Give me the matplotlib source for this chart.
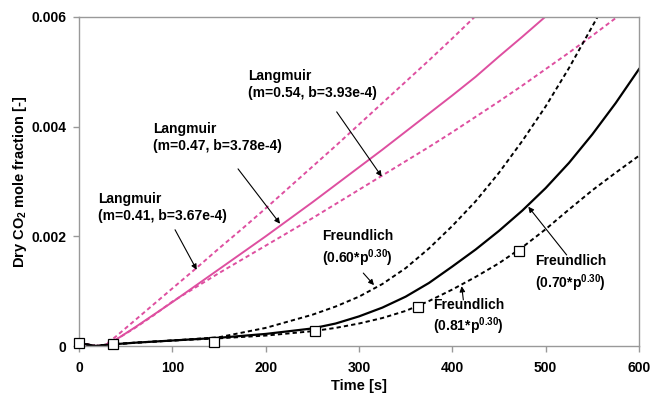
import matplotlib
matplotlib.use("Agg")
import matplotlib.pyplot as plt

plt.rcParams['font.family'] = ['Liberation Sans', 'DejaVu Sans']
plt.rcParams['font.weight'] = 'bold'
plt.rcParams['mathtext.fontset'] = 'custom'
plt.rcParams['mathtext.rm'] = 'Liberation Sans:bold'
plt.rcParams['mathtext.it'] = 'Liberation Sans:bold:italic'
plt.rcParams['mathtext.bf'] = 'Liberation Sans:bold'
plt.rcParams['mathtext.default'] = 'rm'

# ---------------- data ----------------
start_t = [0, 8, 18, 28]
start_v = [0.00005, 0.00003, 0.0, 0.00002]

# Langmuir (pink)
lang_t = [40, 60, 80, 100, 125, 150, 175, 200, 225, 250, 275, 300, 325, 350, 375, 400, 425]
lang041 = [0.00018, 0.00047, 0.00076, 0.00105, 0.00141, 0.00178, 0.00214, 0.00251, 0.00289,
           0.00327, 0.00365, 0.00404, 0.00443, 0.00482, 0.00521, 0.00561, 0.00602]

lang047_t = [40, 60, 80, 100, 125, 150, 175, 200, 225, 250, 275, 300, 325, 350, 375, 400, 425, 450, 475, 500]
lang047 = [0.00012, 0.00034, 0.00057, 0.0008, 0.0011, 0.0014, 0.0017, 0.002, 0.00231, 0.00262,
           0.00294, 0.00326, 0.00358, 0.00391, 0.00424, 0.00457, 0.00491, 0.00528, 0.00564, 0.00601]

lang054_t = [40, 60, 80, 100, 125, 150, 175, 200, 225, 250, 275, 300, 325, 350, 375, 400, 425,
             450, 475, 500, 525, 550, 575, 580]
lang054 = [0.00012, 0.00033, 0.00056, 0.00081, 0.00107, 0.00133, 0.00158, 0.00183, 0.00208, 0.00233,
           0.00259, 0.00285, 0.00311, 0.00337, 0.00363, 0.0039, 0.00418, 0.00446, 0.00475, 0.00505,
           0.00535, 0.00566, 0.00598, 0.00605]

# Freundlich (black)
fr_t = [36, 60, 100, 150, 200, 250, 275, 300, 325, 350, 375, 400, 425, 450, 475, 500, 525, 550, 575, 600]
fr060 = [0.00003, 0.00006, 0.0001, 0.00016, 0.00033, 0.00057, 0.00072, 0.0009, 0.00113, 0.00142,
         0.00178, 0.00219, 0.00264, 0.00316, 0.00374, 0.00437, 0.00507, 0.00583, 0.0066, 0.0074]
fr070 = [0.00003, 0.00006, 0.0001, 0.00015, 0.00022, 0.00032, 0.00041, 0.00054, 0.0007, 0.0009,
         0.00115, 0.00145, 0.00176, 0.0021, 0.00247, 0.00288, 0.00334, 0.00386, 0.00443, 0.00505]
fr081 = [0.00003, 0.00006, 0.0001, 0.00014, 0.00019, 0.00027, 0.00033, 0.00041, 0.00051, 0.00064,
         0.00082, 0.00103, 0.00126, 0.00151, 0.0018, 0.00213, 0.00249, 0.00284, 0.00316, 0.00347]

# measured data
meas_t = [0, 36, 145, 253, 363, 471]
meas_v = [0.00005, 0.00003, 0.00008, 0.00027, 0.00072, 0.00174]

x_ticks = [0, 100, 200, 300, 400, 500, 600]
y_ticks = [0, 0.002, 0.004, 0.006]
y_ticklabels = ['0', '0.002', '0.004', '0.006']

# ---------------- plot ----------------
W, H = 653, 398
fig = plt.figure(figsize=(W / 100, H / 100), dpi=100)
ax = fig.add_axes([79 / W, 1 - 346 / H, (639 - 79) / W, (346 - 17) / H])

pink = '#DE4FA0'
lw = 1.4
dash = (2.2, 1.6)

ax.plot(start_t + lang_t, start_v + lang041, color=pink, lw=lw, dashes=dash)
ax.plot(start_t + lang047_t, start_v + lang047, color=pink, lw=lw)
ax.plot(start_t + lang054_t, start_v + lang054, color=pink, lw=lw, dashes=dash)

ax.plot(start_t + fr_t, start_v + fr060, color='black', lw=lw, dashes=dash)
ax.plot(start_t + fr_t, start_v + fr070, color='black', lw=1.6)
ax.plot(start_t + fr_t, start_v + fr081, color='black', lw=lw, dashes=dash)

ax.plot(meas_t, meas_v, linestyle='none', marker='s', markersize=6.5,
        markerfacecolor='white', markeredgecolor='black', markeredgewidth=0.9, zorder=5,
        clip_on=False)

ax.set_xlim(0, 600)
ax.set_ylim(0, 0.006)
ax.set_xticks(x_ticks)
ax.set_xticklabels([str(v) for v in x_ticks])
ax.set_yticks(y_ticks)
ax.set_yticklabels(y_ticklabels)

for s in ax.spines.values():
    s.set_color('#999999')
    s.set_linewidth(1.0)
ax.tick_params(axis='both', direction='out', color='#999999', length=4, width=1.0,
               labelsize=10)
ax.tick_params(axis='x', pad=7)
ax.tick_params(axis='y', pad=5)

ax.set_xlabel('Time [s]', fontsize=10.5, fontweight='bold', labelpad=3)
ax.set_ylabel('Dry CO$_2$ mole fraction [-]', fontsize=10.5, fontweight='bold', labelpad=2)

ap = dict(arrowstyle='-|>', color='black', lw=0.8, mutation_scale=8, shrinkA=0, shrinkB=0)
fs = 10


def note(text, txy, a_from, a_to):
    ax.text(txy[0], txy[1], text, fontsize=fs, fontweight='bold', ha='left', va='top',
            linespacing=1.25)
    ax.annotate('', xy=a_to, xytext=a_from, arrowprops=ap)


note('Langmuir\n(m=0.54, b=3.93e-4)', (181.4, 0.00505), (276.1, 0.00427), (324.3, 0.00309))
note('Langmuir\n(m=0.47, b=3.78e-4)', (79.6, 0.00408), (170.4, 0.00323), (215.4, 0.00223))
note('Langmuir\n(m=0.41, b=3.67e-4)', (20.7, 0.00280), (102.9, 0.00212), (126.1, 0.00139))
note('Freundlich\n(0.60*p$^{0.30}$)', (260.0, 0.00213), (304.6, 0.00133), (316.1, 0.00111))
note('Freundlich\n(0.70*p$^{0.30}$)', (488.6, 0.00167), (522.5, 0.00166), (481.4, 0.00254))
note('Freundlich\n(0.81*p$^{0.30}$)', (379.6, 0.00088), (411.8, 0.00084), (410.0, 0.00109))

fig.savefig('out.png', dpi=100)
